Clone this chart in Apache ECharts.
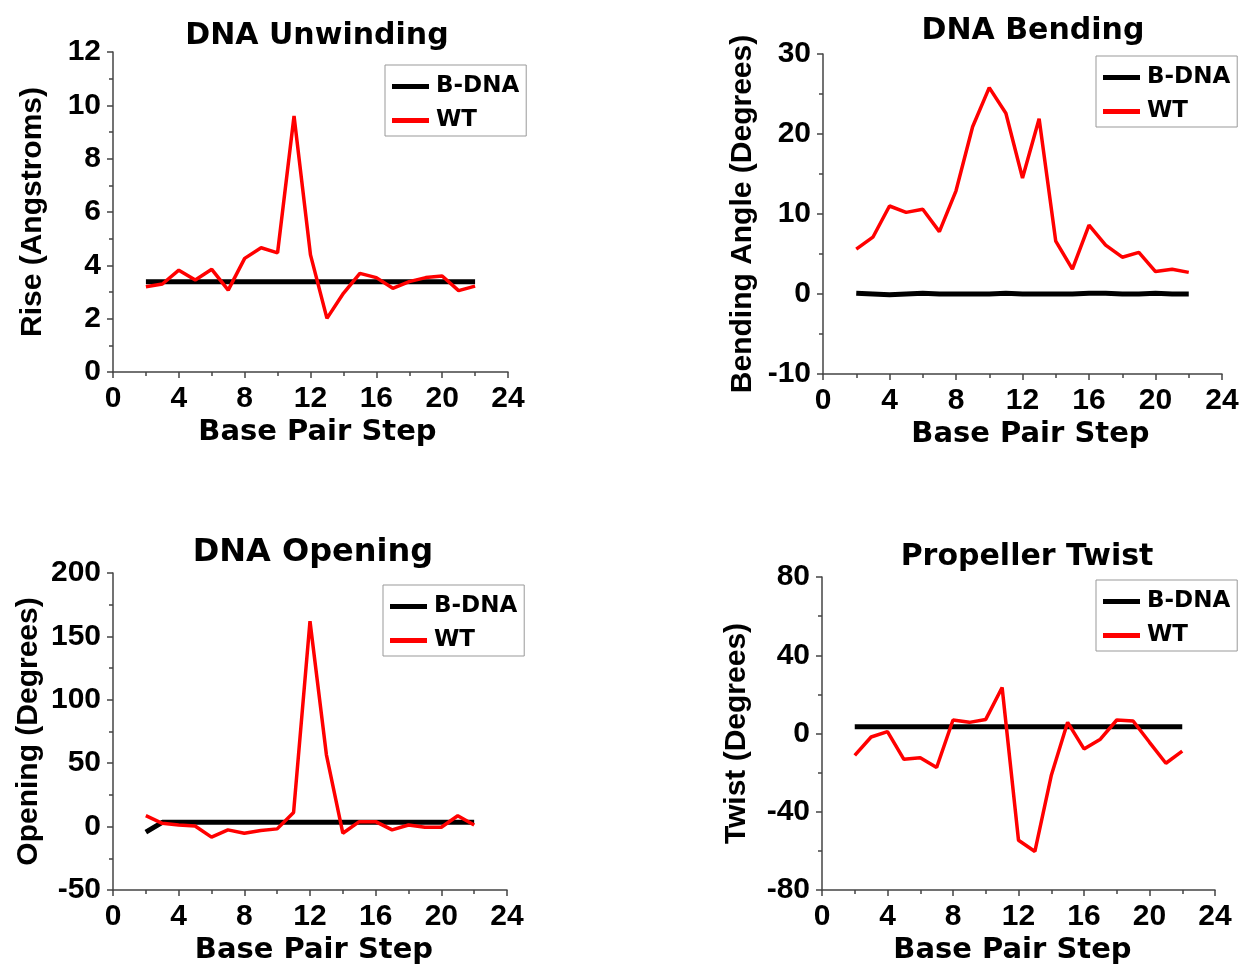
<!DOCTYPE html>
<html>
<head>
<meta charset="utf-8">
<script src="https://cdn.jsdelivr.net/npm/echarts@6/dist/echarts.min.js"></script>
<style>
  html, body { margin: 0; padding: 0; background: #fff; }
  #chart { width: 1243px; height: 966px; }
</style>
</head>
<body>
<div id="chart"></div>
<script>
const steps = [2, 3, 4, 5, 6, 7, 8, 9, 10, 11, 12, 13, 14, 15, 16, 17, 18, 19, 20, 21, 22];

const riseB = [3.38, 3.38, 3.38, 3.38, 3.38, 3.38, 3.38, 3.38, 3.38, 3.38, 3.38, 3.38, 3.38, 3.38, 3.38, 3.38, 3.38, 3.38, 3.38, 3.38, 3.38];
const riseWT = [3.2, 3.3, 3.82, 3.45, 3.85, 3.07, 4.26, 4.66, 4.47, 9.6, 4.39, 2.01, 2.95, 3.7, 3.54, 3.14, 3.39, 3.54, 3.6, 3.05, 3.22];

const bendB = [0.1, 0, -0.1, 0, 0.1, 0, 0, 0, 0, 0.1, 0, 0, 0, 0, 0.1, 0.1, 0, 0, 0.1, 0, 0];
const bendWT = [5.6, 7.1, 11.0, 10.2, 10.6, 7.8, 12.9, 20.9, 25.8, 22.6, 14.5, 21.9, 6.6, 3.1, 8.6, 6.1, 4.6, 5.2, 2.8, 3.1, 2.7];

const openB = [-4.4, 3.4, 3.4, 3.4, 3.4, 3.4, 3.4, 3.4, 3.4, 3.4, 3.4, 3.4, 3.4, 3.4, 3.4, 3.4, 3.4, 3.4, 3.4, 3.4, 3.4];
const openWT = [8.6, 2.6, 1.3, 0.5, -8.3, -2.6, -5.2, -3.1, -1.8, 11.2, 162, 56.6, -5.2, 3.9, 3.9, -2.6, 1.3, -0.5, -0.5, 8.6, 1.3];

const twistB = [3.5, 3.5, 3.5, 3.5, 3.5, 3.5, 3.5, 3.5, 3.5, 3.5, 3.5, 3.5, 3.5, 3.5, 3.5, 3.5, 3.5, 3.5, 3.5, 3.5, 3.5];
const twistWT = [-11.2, -1.8, 1.0, -13.2, -12.4, -17.4, 6.9, 5.7, 7.2, 23.5, -54.6, -60.3, -21.5, 5.7, -7.9, -2.9, 6.9, 6.4, -4.5, -15.2, -9.0];

const titles = ['DNA Unwinding', 'DNA Bending', 'DNA Opening', 'Propeller Twist'];
const yNames = ['Rise (Angstroms)', 'Bending Angle (Degrees)', 'Opening (Degrees)', 'Twist (Degrees)'];
const yMin = [0, -10, -50, -80];
const yMax = [12, 30, 200, 80];
const yStep = [2, 10, 50, 40];

const font = 'Liberation Sans, Arial, sans-serif';
const wide = 'DejaVu Sans, Verdana, sans-serif';

// plot boxes
const grids = [
  { left: 113, top: 52, width: 395, height: 320 },
  { left: 823, top: 54, width: 399, height: 320 },
  { left: 113, top: 573, width: 394, height: 320 },
  { left: 822, top: 577, width: 393, height: 320 }
];
const titlePos = [
  { left: 312, top: 16, size: 30 },
  { left: 1028, top: 11, size: 30 },
  { left: 308, top: 532, size: 32 },
  { left: 1022, top: 537, size: 30 }
];
const legendPos = [
  { left: 385, top: 65 },
  { left: 1096, top: 56 },
  { left: 383, top: 585 },
  { left: 1096, top: 580 }
];
const yNameGap = [65, 65, 69, 70];
// horizontal nudge of "Base Pair Step" (left pad, right pad)
const xNamePad = [[0, 0, 0, 14], [0, 0, 0, 16], [0, 0, 0, 8], [0, 12, 0, 0]];

const pairs = (ys) => steps.map((x, i) => [x, ys[i]]);
const blackSets = [riseB, bendB, openB, twistB];
const redSets = [riseWT, bendWT, openWT, twistWT];

const axisStyle = {
  axisLine: { show: true, onZero: false, lineStyle: { color: '#444', width: 1.5 } },
  axisTick: { show: true, inside: false, length: 6, lineStyle: { color: '#444', width: 1.5 } },
  minorTick: { show: true, splitNumber: 2, length: 4, lineStyle: { color: '#444', width: 1.5 } },
  splitLine: { show: false },
  axisLabel: { color: '#000', fontFamily: font, fontWeight: 'bold', fontSize: 30, margin: 12 }
};

const option = {
  animation: false,
  backgroundColor: '#fff',
  title: titles.map((t, i) => ({
    text: t,
    left: titlePos[i].left,
    top: titlePos[i].top,
    textAlign: 'center',
    textStyle: { fontFamily: wide, fontWeight: 'bold', fontSize: titlePos[i].size, color: '#000' }
  })),
  legend: legendPos.map((p, i) => ({
    data: ['B-DNA', 'WT'],
    orient: 'vertical',
    left: p.left,
    top: p.top,
    icon: 'rect',
    itemWidth: 37,
    itemHeight: 5,
    itemGap: 11,
    padding: [10, 7, 4, 7],
    borderColor: '#999',
    borderWidth: 1,
    selectedMode: false,
    textStyle: { fontFamily: wide, fontWeight: 'bold', fontSize: 23, color: '#000', padding: [0, 0, 0, 2] }
  })),
  grid: grids,
  xAxis: grids.map((g, i) => Object.assign({
    type: 'value',
    gridIndex: i,
    min: 0,
    max: 24,
    interval: 4,
    name: 'Base Pair Step',
    nameLocation: 'middle',
    nameGap: 46,
    nameTextStyle: { fontFamily: wide, fontWeight: 'bold', fontSize: 29, color: '#000', padding: xNamePad[i] }
  }, axisStyle)),
  yAxis: grids.map((g, i) => Object.assign({
    type: 'value',
    gridIndex: i,
    min: yMin[i],
    max: yMax[i],
    interval: yStep[i],
    name: yNames[i],
    nameLocation: 'middle',
    nameGap: yNameGap[i],
    nameTextStyle: { fontFamily: font, fontWeight: 'bold', fontSize: 30, color: '#000' }
  }, axisStyle)),
  series: []
};

for (let i = 0; i < 4; i++) {
  option.series.push({
    name: 'B-DNA',
    type: 'line',
    xAxisIndex: i,
    yAxisIndex: i,
    data: pairs(blackSets[i]),
    showSymbol: false,
    lineStyle: { color: '#000', width: 5 },
    itemStyle: { color: '#000' }
  });
  option.series.push({
    name: 'WT',
    type: 'line',
    xAxisIndex: i,
    yAxisIndex: i,
    data: pairs(redSets[i]),
    showSymbol: false,
    lineStyle: { color: '#ff0000', width: 3.5 },
    itemStyle: { color: '#ff0000' }
  });
}

const myChart = echarts.init(document.getElementById('chart'));
myChart.setOption(option);
</script>
</body>
</html>
